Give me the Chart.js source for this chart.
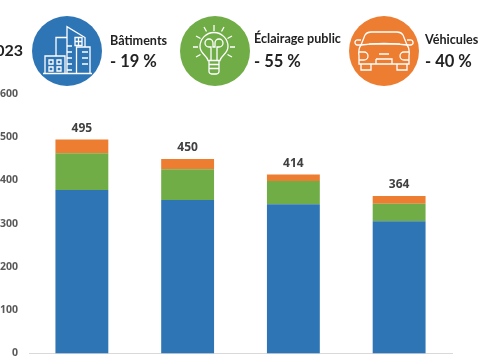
<!DOCTYPE html>
<html>
<head>
<meta charset="utf-8">
<style>
  html, body { margin: 0; padding: 0; background: #fff; }
  #wrap { position: relative; width: 480px; height: 360px; overflow: hidden; }
  #chart { position: absolute; left: 0; top: 0; }
  .txt { position: absolute; font-family: Lato, sans-serif; font-weight: 700; color: #222; white-space: nowrap; line-height: 1; }
  .name { font-size: 12.6px; }
  .pct { font-size: 16.5px; }
  svg.icon { position: absolute; top: 16px; width: 70px; height: 70px; fill: none; stroke: #fff; stroke-width: 1.3; }
</style>
</head>
<body>
<div id="wrap">
  <canvas id="chart" width="480" height="360"></canvas>

  <div class="txt" style="right:457px;top:42px;font-size:16px">2023</div>

  <!-- buildings -->
  <svg class="icon" style="left:32px" viewBox="0 0 70 70">
    <circle cx="35" cy="35" r="35" fill="#2e75b6" stroke="none"/>
    <path d="M11 57.5H60"/>
    <path d="M13 57.5V40H33V57.5"/>
    <path d="M17 44h4v4h-4zM25 44h4v4h-4zM17 51h4v4h-4zM25 51h4v4h-4z"/>
    <path d="M24 40V21.5H35"/>
    <path d="M35 57.5V10.7L53 21.5V31"/>
    <path d="M44.5 57.5V31H58V57.5"/>
    <path d="M43 21.5h7v8h-7zM46.500 21.500v8M43 25.500h7"/>
    <path d="M35 30h5M35 36h5M35 42h5M35 48h5M35 54h5"/>
    <path d="M50 36h6M50 42h6M50 48h6"/>
  </svg>
  <div class="txt name" style="left:110px;top:35px">Bâtiments</div>
  <div class="txt pct" style="left:110px;top:53px">- 19 %</div>

  <!-- street lighting -->
  <svg class="icon" style="left:180px" viewBox="0 0 70 70">
    <circle cx="35" cy="35" r="35" fill="#70ad47" stroke="none"/>
    <path d="M34 9V15M24 11L26.500 15.500M44 11L41.500 15.500M16 20L20.500 22.500M52 20L47.500 22.500M13 31H18M50 31H55M16 41L20.500 38.500M52 41L47.500 38.500"/>
    <path d="M28 44.500C27 39 20 38 20 30.500A14 14 0 0 1 48 30.500C48 38 41 39 40 44.500Z"/>
    <path d="M31 44.500V31H29A4 4 0 1 1 33 27V31H35V27A4 4 0 1 1 39 31H37V44.500"/>
    <path d="M28.500 48.500H39.500M28.500 52.500H39.500M29 44.500V56A3 3 0 0 0 32 58H36A3 3 0 0 0 39 56V44.500"/>
  </svg>
  <div class="txt name" style="left:254px;top:33px">Éclairage public</div>
  <div class="txt pct" style="left:254px;top:53px">- 55 %</div>

  <!-- vehicles -->
  <svg class="icon" style="left:349px" viewBox="0 0 70 70">
    <circle cx="35" cy="35" r="35" fill="#ed7d31" stroke="none"/>
    <path d="M12 29L16 19Q18 16 22 16H48Q52 16 54 19L58 29"/>
    <path d="M12 29Q9 33 10 40V48H60V40Q61 33 58 29Q35 26 12 29Z"/>
    <path d="M20 28H51"/>
    <path d="M12 29H8A2.500 2.500 0 0 1 9 24H12M58 29H62A2.500 2.500 0 0 0 61 24H58"/>
    <path d="M10 36H15A4 4 0 0 1 15 44H10M60 36H55A4 4 0 0 0 55 44H60"/>
    <path d="M27 43H43V48M27 43V48M30 38H40"/>
    <path d="M12 48V54H22V48M48 48V54H58V48"/>
  </svg>
  <div class="txt name" style="left:425px;top:34px">Véhicules</div>
  <div class="txt pct" style="left:425px;top:53px">- 40 %</div>
</div>

<script src="https://cdn.jsdelivr.net/npm/chart.js@4"></script>
<script>
// Chart data
const categories = ['1', '2', '3', '4'];
const batiments = [378, 355, 345, 306];
const eclairage = [85, 71, 54, 40];
const vehicules = [32, 24, 15, 18];
const totals = [495, 450, 414, 364];

// Writes the total above each stack
const totalLabels = {
    id: 'totalLabels',
    afterDatasetsDraw(chart) {
        const ctx = chart.ctx;
        const top = chart.getDatasetMeta(2).data;
        ctx.save();
        ctx.font = '700 12px "Open Sans", sans-serif';
        ctx.fillStyle = '#404040';
        ctx.textAlign = 'center';
        ctx.textBaseline = 'bottom';
        totals.forEach((total, i) => {
            ctx.fillText(total, top[i].x, chart.scales.y.getPixelForValue(total) - 5);
        });
        ctx.restore();
    }
};

const chart = new Chart(document.getElementById('chart'), {
    type: 'bar',
    data: {
        labels: categories,
        datasets: [
            { label: 'Bâtiments', data: batiments, backgroundColor: '#2e75b6' },
            { label: 'Éclairage public', data: eclairage, backgroundColor: '#70ad47' },
            { label: 'Véhicules', data: vehicules, backgroundColor: '#ed7d31' }
        ]
    },
    options: {
        responsive: false,
        animation: false,
        layout: { padding: { top: 94, right: 28, bottom: 6.5, left: 0 } },
        plugins: { legend: { display: false }, tooltip: { enabled: false } },
        datasets: { bar: { barPercentage: 0.5, categoryPercentage: 1 } },
        scales: {
            x: {
                stacked: true,
                grid: { display: false },
                border: { color: '#d9d9d9', width: 1 },
                ticks: { display: false, padding: 0 },
                afterFit(scale) { scale.height = 0; scale.paddingTop = 0; scale.paddingBottom = 0; }
            },
            y: {
                stacked: true,
                min: 0,
                max: 600,
                grid: { display: false, drawTicks: false },
                border: { display: false },
                ticks: {
                    stepSize: 100,
                    padding: 11,
                    color: '#595959',
                    font: { family: '"Open Sans", sans-serif', size: 10.5, weight: '700' }
                },
                afterFit(scale) { scale.width = 29; scale.paddingTop = 0; scale.paddingBottom = 0; }
            }
        }
    },
    plugins: [totalLabels]
});
</script>
</body>
</html>
